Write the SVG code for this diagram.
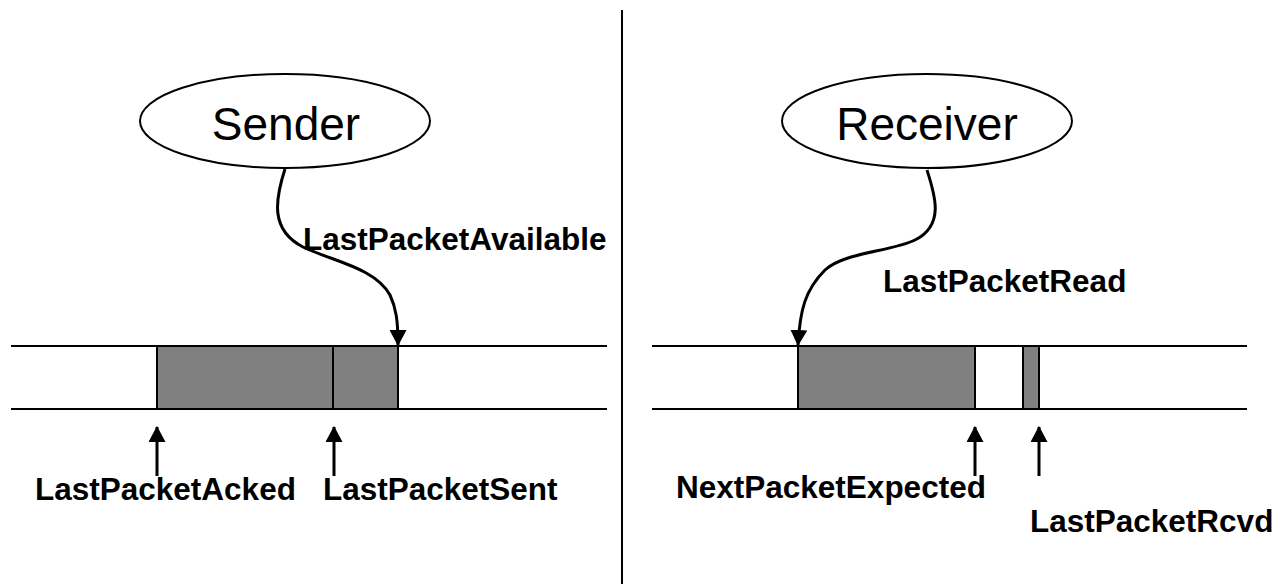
<svg xmlns="http://www.w3.org/2000/svg" width="1282" height="584" viewBox="0 0 1282 584">
<style>
.rail{stroke:#000;stroke-width:2;fill:none}
.buf{fill:#808080;stroke:#000;stroke-width:2}
.node{fill:#fff;stroke:#000;stroke-width:2}
.title{font-family:"Liberation Sans",Arial,sans-serif;font-size:46px;text-anchor:middle;fill:#000}
.lbl{font-family:"Liberation Sans",Arial,sans-serif;font-size:31.5px;font-weight:bold;fill:#000}
.conn{stroke:#000;stroke-width:3;fill:none}
</style>
<defs>
<marker id="ah" viewBox="0 0 16 17" refX="15" refY="8.5" markerWidth="16" markerHeight="17" markerUnits="userSpaceOnUse" orient="auto">
<path d="M0,0 L16,8.5 L0,17 z" fill="#000"/>
</marker>
</defs>
<rect width="1282" height="584" fill="#fff"/>
<line x1="622" y1="10" x2="622" y2="584" stroke="#000" stroke-width="2"/>
<g id="sender-buffer">
<line class="rail" x1="11" y1="346" x2="607" y2="346"/>
<line class="rail" x1="11" y1="409" x2="607" y2="409"/>
<rect class="buf" x="157" y="346" width="176" height="63"/>
<rect class="buf" x="333" y="346" width="65" height="63"/>
</g>
<g id="receiver-buffer">
<line class="rail" x1="652" y1="346" x2="1247" y2="346"/>
<line class="rail" x1="652" y1="409" x2="1247" y2="409"/>
<rect class="buf" x="798" y="346" width="177" height="63"/>
<rect class="buf" x="1023" y="346" width="16" height="63"/>
</g>
<g id="sender">
<ellipse class="node" cx="285" cy="121" rx="145" ry="47"/>
<text class="title" x="286" y="140">Sender</text>
</g>
<g id="receiver">
<ellipse class="node" cx="927" cy="121" rx="145" ry="47"/>
<text class="title" x="927" y="140">Receiver</text>
</g>
<g id="connectors">
<path class="conn" d="M285,169 C275,200 270,230 303,247 C335,262 375,268 390,295 C396,308 398,320 398,345" marker-end="url(#ah)"/>
<path class="conn" d="M927,170 C935,195 945,225 915,240 C890,252 845,252 825,270 C805,290 800,310 798,345" marker-end="url(#ah)"/>
<path class="conn" d="M157,476 L157,427" marker-end="url(#ah)"/>
<path class="conn" d="M334,476 L334,427" marker-end="url(#ah)"/>
<path class="conn" d="M975,476 L975,427" marker-end="url(#ah)"/>
<path class="conn" d="M1039,476 L1039,427" marker-end="url(#ah)"/>
</g>
<g id="labels">
<text class="lbl" x="303" y="250">LastPacketAvailable</text>
<text class="lbl" x="883" y="292">LastPacketRead</text>
<text class="lbl" x="35" y="500">LastPacketAcked</text>
<text class="lbl" x="323" y="500">LastPacketSent</text>
<text class="lbl" x="676" y="498">NextPacketExpected</text>
<text class="lbl" x="1030" y="532">LastPacketRcvd</text>
</g>
</svg>
